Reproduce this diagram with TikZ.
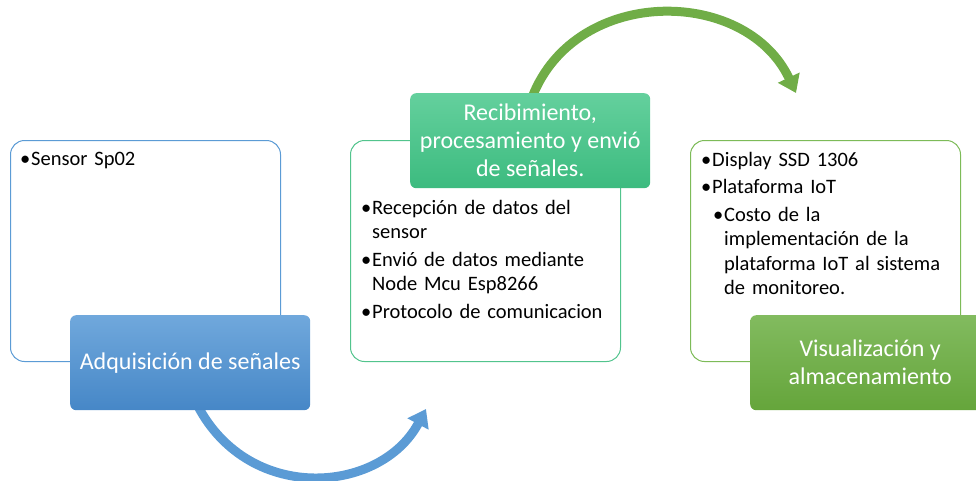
\documentclass[tikz,border=0pt]{standalone}
\usepackage{fontspec}
\setmainfont{Carlito}
\usepackage{xcolor}
\usetikzlibrary{shapes,arrows.meta,positioning,calc,backgrounds}

\definecolor{blueline}{RGB}{91,155,213}
\definecolor{bluetop}{RGB}{112,168,220}
\definecolor{bluebot}{RGB}{70,135,199}
\definecolor{tealline}{RGB}{82,196,141}
\definecolor{tealtop}{RGB}{100,208,157}
\definecolor{tealbot}{RGB}{60,187,127}
\definecolor{greenline}{RGB}{125,187,88}
\definecolor{greentop}{RGB}{130,187,95}
\definecolor{greenbot}{RGB}{101,165,59}
\definecolor{greenarrow}{RGB}{112,173,71}

\newcommand{\itm}[1]{\hangindent=11pt\hangafter=1\noindent\makebox[11pt][l]{\textbullet}#1\par}
\newcommand{\subitm}[1]{\hangindent=23pt\hangafter=1\noindent\hspace*{12pt}\makebox[11pt][l]{\textbullet}#1\par}
\newcommand{\txtfont}{\fontsize{20.5}{24.5}\selectfont\parskip=3pt\relax\hyphenpenalty=10000\relax\exhyphenpenalty=10000\relax}

\begin{document}
\begin{tikzpicture}[x=1pt,y=-1pt,
  outbox/.style={draw,line width=1pt,rounded corners=14pt,fill=white,
    minimum width=270pt,minimum height=221pt,inner sep=0pt},
  lbl/.style={rounded corners=6pt,text=white,align=center,inner sep=0pt,
    minimum width=240pt,minimum height=95pt,font=\fontsize{24}{28}\selectfont},
  txt/.style={anchor=north west,inner sep=0pt,align=left,font=\txtfont},
  bigarrow/.style={line width=9pt,-{Triangle[length=17pt,width=23pt]}}]
\useasboundingbox (0,0) rectangle (976,480);

\node[outbox,draw=blueline,anchor=north west] (sig) at (10,140) {};
\node[outbox,draw=tealline,right=69pt of sig] (proc) {};
\node[outbox,draw=greenline,right=69pt of proc] (vis) {};

\node[txt,text width=245pt] (sigtxt) at ([shift={(10,12)}]sig.north west)
  {\itm{Sensor Sp02}};
\node[txt,text width=250pt] (proctxt) at ([shift={(11,60)}]proc.north west)
  {\itm{Recepción de datos del sensor}%
   \itm{Envió de datos mediante Node Mcu Esp8266}%
   \itm{Protocolo de comunicacion}};
\node[txt,text width=250pt] (vistxt) at ([shift={(11,12)}]vis.north west)
  {\itm{Display SSD 1306}%
   \itm{Plataforma IoT}%
   \subitm{Costo de la implementación de la plataforma IoT al sistema de monitoreo.}};

\node[lbl,top color=bluetop,bottom color=bluebot,anchor=north west] (adq)
  at ([shift={(60,175)}]sig.north west) {Adquisición de señales};
\node[lbl,top color=tealtop,bottom color=tealbot,anchor=north west] (recb)
  at ([shift={(60,-47)}]proc.north west) {Recibimiento,\\procesamiento y envió\\de señales.};
\node[lbl,top color=greentop,bottom color=greenbot,anchor=north west] (alm)
  at ([shift={(60,175)}]vis.north west) {Visualización y\\almacenamiento};

\coordinate (tipone) at (426,409);
\coordinate (tiptwo) at (796,93);

\begin{pgfonlayer}{background}
\draw[bigarrow,blueline] ($(adq.south west)+(125,-10)$) .. controls (245,505) and (380,495) .. (tipone);
\draw[bigarrow,greenarrow] ($(recb.north west)+(120,10)$) .. controls (570,-15) and (745,-15) .. (tiptwo);
\end{pgfonlayer}
\end{tikzpicture}
\end{document}
